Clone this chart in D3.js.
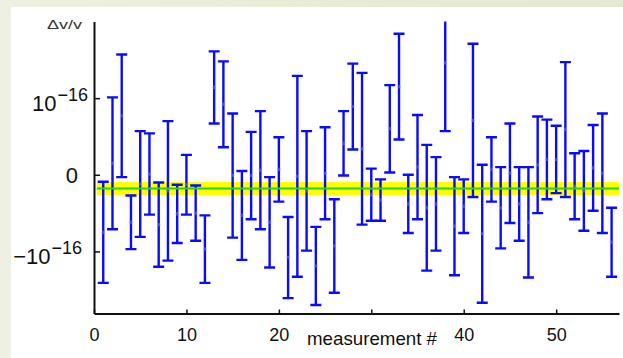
<!DOCTYPE html>
<html>
<head>
<meta charset="utf-8">
<script src="https://cdn.jsdelivr.net/npm/d3@7"></script>
<style>
body { margin: 0; background: #eef0df; }
svg { display: block; font-family: "Liberation Sans", Arial, sans-serif; }
</style>
</head>
<body>
<svg id="chart" width="623" height="358"></svg>
<script>
// values in units of 1e-16
const measurements = [1, 2, 3, 4, 5, 6, 7, 8, 9, 10, 11, 12, 13, 14, 15, 16, 17, 18, 19, 20,
    21, 22, 23, 24, 25, 26, 27, 28, 29, 30, 31, 32, 33, 34, 35, 36, 37, 38, 39, 40,
    41, 42, 43, 44, 45, 46, 47, 48, 49, 50, 51, 52, 53, 54, 55, 56]
const deltas = [-0.75, 0.15, 0.77, -0.62, -0.12, 0.01, -0.65, -0.21, -0.51, -0.13,
    -0.50, -0.97, 1.14, 0.92, -0.01, -0.53, -0.01, 0.06, -0.62, 0.07,
    -1.08, -0.02, -0.21, -1.19, 0.02, -0.93, 0.41, 0.89, 0.34, -0.26,
    -0.33, 0.60, 1.15, -0.38, 0.10, -0.43, -0.38, 1.46, -0.67, -0.41,
    0.71, -0.77, 0.07, -0.43, 0.02, -0.38, -0.62, 0.13, 0.20, 0.20,
    0.59, -0.15, -0.21, 0.09, 0.02, -0.88]
const errors = [0.66, 0.86, 0.80, 0.35, 0.69, 0.53, 0.55, 0.91, 0.38, 0.39,
    0.36, 0.44, 0.47, 0.56, 0.81, 0.58, 0.57, 0.77, 0.59, 0.42,
    0.53, 1.31, 0.78, 0.51, 0.60, 0.61, 0.42, 0.56, 0.99, 0.34,
    0.27, 0.57, 0.69, 0.38, 0.68, 0.82, 0.61, 0.89, 0.64, 0.35,
    1.00, 0.90, 0.42, 0.53, 0.65, 0.48, 0.72, 0.63, 0.52, 0.44,
    0.88, 0.43, 0.52, 0.56, 0.78, 0.45]
const meanValue = -0.18
const meanError = 0.085
const bandRange = [0.3, 56.8]

const xTickValues = [0, 10, 20, 30, 40, 50]
const xTickLabels = ['0', '10', '20', '', '40', '50']
const yTickValues = [1, 0, -1]
const yTickLabels = [['10', '\u221216'], ['0', ''], ['\u221210', '\u221216']]

const data = measurements.map((m, i) => ({ m: m, v: deltas[i], e: errors[i] }))

const svg = d3.select('#chart')

// slide background with white panel
const grad = svg.append('defs').append('linearGradient').attr('id', 'bg')
grad.append('stop').attr('offset', '0%').attr('stop-color', '#eef0e2')
grad.append('stop').attr('offset', '100%').attr('stop-color', '#e3e8ce')
svg.append('rect').attr('width', 623).attr('height', 358).attr('fill', 'url(#bg)')
svg.append('rect').attr('x', 11).attr('y', 7).attr('width', 612).attr('height', 351).attr('fill', '#ffffff')

const x = d3.scaleLinear().domain([0, 56.8]).range([94, 619])
const y = d3.scaleLinear().domain([-1.81, 2.0]).range([313.5, 21.5])

svg.select('defs').append('clipPath').attr('id', 'plot')
    .append('rect').attr('x', 94).attr('y', 21.5).attr('width', 525).attr('height', 292)

const plot = svg.append('g').attr('clip-path', 'url(#plot)')

// weighted mean band
plot.append('rect')
    .attr('x', x(bandRange[0]))
    .attr('width', x(bandRange[1]) - x(bandRange[0]))
    .attr('y', y(meanValue + meanError))
    .attr('height', y(meanValue - meanError) - y(meanValue + meanError))
    .attr('fill', '#ffff00')

const capW = 5.5
const bars = plot.selectAll('g.bar').data(data).enter().append('g').attr('class', 'bar')
bars.append('line')
    .attr('x1', d => x(d.m)).attr('x2', d => x(d.m))
    .attr('y1', d => y(d.v + d.e)).attr('y2', d => y(d.v - d.e))
bars.append('line')
    .attr('x1', d => x(d.m) - capW).attr('x2', d => x(d.m) + capW)
    .attr('y1', d => y(d.v + d.e)).attr('y2', d => y(d.v + d.e))
bars.append('line')
    .attr('x1', d => x(d.m) - capW).attr('x2', d => x(d.m) + capW)
    .attr('y1', d => y(d.v - d.e)).attr('y2', d => y(d.v - d.e))
bars.selectAll('line').attr('stroke', '#0a0aff').attr('stroke-width', 2.4)
bars.append('circle')
    .attr('cx', d => x(d.m)).attr('cy', d => y(d.v)).attr('r', 1.8)
    .attr('fill', '#7f7fff').attr('opacity', 0.5)

plot.append('line')
    .attr('x1', x(bandRange[0])).attr('x2', x(bandRange[1]))
    .attr('y1', y(meanValue)).attr('y2', y(meanValue))
    .attr('stroke', '#22d422').attr('stroke-width', 2)

// axes
const xAxis = svg.append('g')
    .attr('transform', 'translate(0,' + y(-1.81) + ')')
    .call(d3.axisBottom(x).tickValues(xTickValues).tickSize(-4).tickSizeOuter(0)
        .tickFormat((d, i) => xTickLabels[i]))
xAxis.select('.domain').attr('stroke', '#111').attr('stroke-width', 2)
xAxis.selectAll('.tick line').attr('stroke', '#111').attr('stroke-width', 1.5)
xAxis.selectAll('.tick text')
    .attr('y', 27).attr('dy', 0)
    .attr('font-size', 18).attr('fill', '#111')

const yAxis = svg.append('g')
    .attr('transform', 'translate(' + x(0) + ',0)')
    .call(d3.axisLeft(y).tickValues(yTickValues).tickSize(-6).tickSizeOuter(0).tickFormat(''))
yAxis.select('.domain').attr('stroke', '#111').attr('stroke-width', 2)
yAxis.selectAll('.tick line').attr('stroke', '#111').attr('stroke-width', 1.5)

const labelEnd = [88, 78, 82]
const labelShift = [12.5, 8.5, 12.5]
yTickValues.forEach((v, i) => {
    const t = svg.append('text')
        .attr('x', labelEnd[i]).attr('y', y(v) + labelShift[i])
        .attr('text-anchor', 'end').attr('fill', '#111')
        .attr('font-size', 22)
    t.append('tspan').text(yTickLabels[i][0])
    if (yTickLabels[i][1]) {
        t.append('tspan').attr('font-size', 18).attr('dy', -10).attr('dx', 1)
            .text(yTickLabels[i][1])
    }
})

svg.append('text')
    .attr('x', 47).attr('y', 28.5)
    .attr('font-size', 12).attr('fill', '#333')
    .attr('textLength', 35).attr('lengthAdjust', 'spacingAndGlyphs')
    .text('\u0394v/v')

svg.append('text')
    .attr('x', 307).attr('y', 345)
    .attr('font-size', 18.5).attr('fill', '#111')
    .attr('textLength', 130).attr('lengthAdjust', 'spacingAndGlyphs')
    .text('measurement #')
</script>
</body>
</html>
